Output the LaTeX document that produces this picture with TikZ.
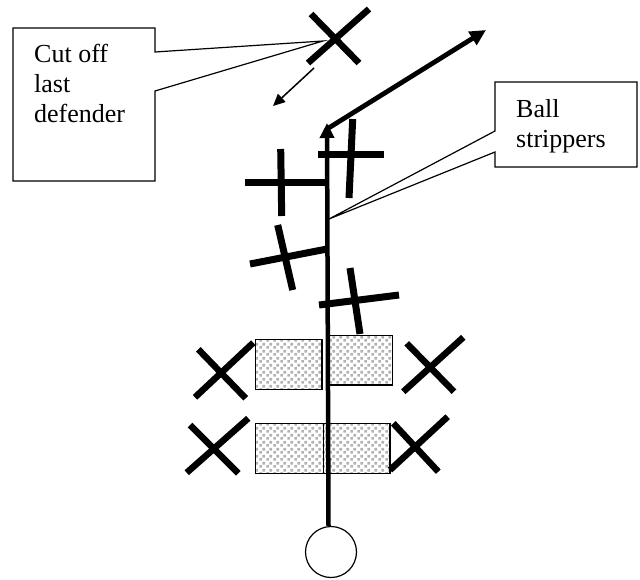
\documentclass[tikz,border=0pt]{standalone}
\usepackage{fontspec}
\setmainfont{Liberation Serif}
\usetikzlibrary{arrows.meta,patterns}
\pgfdeclarepatternformonly{graydots}{\pgfqpoint{0pt}{0pt}}{\pgfqpoint{7pt}{7pt}}{\pgfqpoint{7pt}{7pt}}{%
  \pgfpathrectangle{\pgfqpoint{0.3pt}{0.3pt}}{\pgfqpoint{3pt}{3pt}}%
  \pgfpathrectangle{\pgfqpoint{3.8pt}{3.8pt}}{\pgfqpoint{3pt}{3pt}}%
  \pgfusepath{fill}}
\begin{document}
\begin{tikzpicture}[x=1pt,y=-1pt,
  xline/.style={line width=6.5pt},
  cline/.style={line width=7pt},
  callout/.style={draw,fill=white,line width=1.2pt,line join=miter},
  txt/.style={anchor=base west,inner sep=0pt,align=left,font=\fontsize{26}{30}\selectfont},
  blk/.style={draw,line width=1.2pt,pattern=graydots,pattern color=gray!60,anchor=north west,inner sep=0pt},
  run/.style={line width=4.5pt},
  thin/.style={line width=1.5pt}]
\useasboundingbox (0,0) rectangle (640,579);

% callout boxes
\coordinate (cutTip) at (323,41);
\draw[callout] (155,52) -- (cutTip) -- (155,91) -- (155,181) -- (13,181) -- (13,28) -- (155,28) -- cycle;
\node[txt] (cutTxt) at (34,122) {Cut off\\last\\defender};

\coordinate (ballTip) at (329,219);
\draw[callout] (495,131) -- (ballTip) -- (495,152) -- (495,167) -- (637,167) -- (637,82) -- (495,82) -- cycle;
\node[txt] (ballTxt) at (516,147) {Ball\\strippers};

% shaded blocks
\node[blk,minimum width=66.6pt,minimum height=50pt] (b1) at (254.7,339) {};
\node[blk,minimum width=64pt,minimum height=49.6pt] (b2) at (328,334.7) {};
\node[blk,minimum width=68pt,minimum height=49.7pt] (b3) at (254.7,423) {};
\node[blk,minimum width=66.6pt,minimum height=49.7pt] (b4) at (322.7,423) {};

% ball carrier and run
\node[draw,circle,line width=1.2pt,minimum size=51pt,inner sep=0pt] (ball) at (331,552) {};
\coordinate (tip) at (327,123);
\coordinate (goal) at (486,30);
\draw[run,-{Triangle[length=15pt,width=14pt]}] (ball.north -| 328.5,0) -- (tip);
\draw[run,line width=4.8pt,-{Triangle[length=16pt,width=15pt]}] (327,129) -- (goal);

% last defender X
\draw[xline] (311,14) -- (359,63);
\draw[xline] (369,9) -- (308,63);
\coordinate (defA) at (314,68);
\coordinate (defB) at (273,106);
\draw[thin,-{Triangle[length=12pt,width=11pt]}] (defA) -- (defB);

% ball strippers (crosses)
\draw[cline] (352.7,119) -- (349,198);
\draw[cline] (318,154) -- (384,154);
\draw[cline] (280.7,149) -- (281.7,216);
\draw[cline] (245,182) -- (327,182);
\draw[cline] (277.7,225) -- (292.7,290);
\draw[cline] (250,264) -- (327,249);
\draw[cline] (350,268) -- (360,334);
\draw[cline] (319,305) -- (399,295);

% defenders beside the blocks
\draw[xline] (195,397.3) -- (253.3,342.7);
\draw[xline] (198.3,349.3) -- (245.7,398.3);
\draw[xline] (403.3,391.7) -- (463.3,337.3);
\draw[xline] (406.7,343.3) -- (454,391.7);
\draw[xline] (186.7,472.7) -- (248.3,418.3);
\draw[xline] (190,425) -- (238.3,473.3);
\draw[xline] (390,470) -- (447.7,416.7);
\draw[xline] (393.3,423.3) -- (438.3,471.7);
\end{tikzpicture}
\end{document}
